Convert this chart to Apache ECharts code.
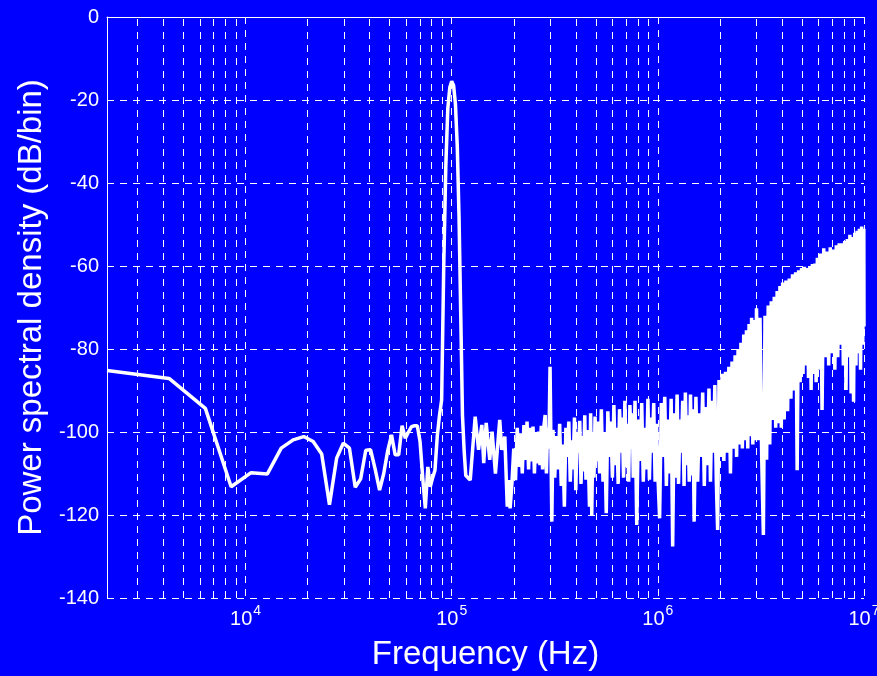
<!DOCTYPE html>
<html>
<head>
<meta charset="utf-8">
<script src="https://cdn.jsdelivr.net/npm/echarts@6/dist/echarts.min.js"></script>
<style>
html, body { margin: 0; padding: 0; background: #0000ff; }
#cn { width: 877px; height: 676px; }
</style>
</head>
<body>
<div id="cn"></div>
<script>
'use strict';

// FFT bins below the carrier (Hz / dB per bin)
const lowHz = [2128, 4256, 6384, 8512, 10640, 12768, 14896, 17024, 19152, 21280,
    23408, 25536, 27664, 29792, 31920, 34048, 36176, 38304, 40432, 42560,
    44688, 46816, 48944, 51072, 53200, 55328, 57456, 59584, 61712, 63840,
    65968, 68096, 70224, 72352, 74480, 76608, 78736, 80864, 82992, 85120,
    87248, 89376, 91504, 93632, 95760, 97888, 100016, 102144, 104272, 106400,
    108528, 110656, 112784, 114912, 117040];
const lowDb = [-85.2, -87.1, -94.3, -113.2, -109.8, -110.1, -103.9, -101.9, -101.1, -102.3,
    -105.3, -117.5, -106.3, -102.7, -103.9, -113.3, -111.3, -104.4, -104.3, -109,
    -114, -110, -104.5, -100.7, -105.5, -105.5, -98.5, -101.5, -100, -98.7,
    -98.5, -98.5, -102.3, -111, -118.4, -108.4, -113.2, -111, -109.2, -101,
    -96, -92.3, -60, -36, -22, -17, -15.5, -16.5, -21, -31,
    -48, -72, -96, -104.5, -110.5];

// 120 kHz .. 306 kHz
const midHz = [123e3, 130e3, 135e3, 140e3, 143e3, 147e3, 153e3, 157e3, 163e3, 171e3,
    175e3, 181e3, 186e3, 189e3, 192e3, 196e3,
    200e3, 204e3, 208e3, 212e3, 216e3, 220e3, 224e3, 228e3, 232e3, 236e3,
    240e3, 244e3, 248e3, 252e3, 256e3, 260e3, 264e3, 268e3, 272e3, 276e3,
    280e3, 284e3, 288e3, 292e3, 296e3, 300e3, 306e3];
const midDb = [-111.6, -96.3, -104.3, -98.3, -107.5, -97.8, -106.7, -99.9, -110, -97.1,
    -104.3, -101.1, -118, -111.6, -118.4, -112.3,
    -104, -111.6, -99, -108.4, -100.3, -110, -98.3, -106.7, -97.5, -109,
    -99, -107.1, -98.7, -110, -100, -107.6, -99.9, -108, -98.5, -109,
    -98.7, -95.9, -110, -99, -104, -84.3, -121.6];

// dense noise band, 310 kHz .. 10 MHz
const hfHz = [
    310e3, 316e3, 322e3, 328e3, 334e3, 340e3, 346e3, 352e3, 358e3, 364e3,
    370e3, 376e3, 382e3, 388e3, 394e3, 400e3, 406e3, 412e3, 418e3, 424e3,
    430e3, 436e3, 442e3, 448e3, 454e3, 460e3, 466e3, 472e3, 478e3, 484e3,
    490e3, 496e3, 502e3,
    512e3, 522e3, 532e3, 542e3, 552e3, 562e3, 572e3, 582e3, 592e3, 602e3,
    612e3, 622e3, 632e3, 642e3, 652e3, 662e3, 672e3, 682e3, 692e3, 702e3,
    712e3, 722e3, 732e3, 742e3, 752e3,
    760e3, 775e3, 790e3, 805e3, 820e3, 835e3, 850e3, 865e3, 880e3, 895e3,
    910e3, 925e3, 940e3, 955e3, 970e3, 985e3, 1000e3,
    1020e3, 1040e3, 1060e3, 1080e3, 1100e3, 1120e3, 1140e3, 1160e3, 1180e3, 1200e3,
    1220e3, 1240e3, 1260e3, 1280e3, 1300e3, 1320e3, 1340e3, 1360e3, 1380e3, 1400e3,
    1420e3, 1440e3, 1460e3, 1480e3, 1500e3,
    1530e3, 1560e3, 1590e3, 1620e3, 1650e3, 1680e3, 1710e3, 1740e3, 1770e3, 1800e3,
    1830e3, 1860e3, 1890e3, 1920e3, 1950e3, 1980e3, 2010e3,
    2050e3, 2090e3, 2130e3, 2170e3, 2210e3, 2250e3, 2290e3, 2330e3, 2370e3, 2410e3,
    2450e3, 2490e3, 2530e3, 2570e3, 2610e3, 2650e3, 2690e3, 2730e3, 2770e3, 2810e3,
    2850e3, 2890e3, 2930e3, 2970e3, 3010e3,
    3070e3, 3130e3, 3190e3, 3250e3, 3310e3, 3370e3, 3430e3, 3490e3, 3550e3, 3610e3,
    3670e3, 3730e3, 3790e3, 3850e3, 3910e3, 3970e3, 4030e3,
    4100e3, 4180e3, 4260e3, 4340e3, 4420e3, 4500e3, 4580e3, 4660e3, 4740e3, 4820e3,
    4900e3, 4980e3, 5060e3, 5140e3, 5220e3, 5300e3, 5380e3, 5460e3, 5540e3, 5620e3,
    5700e3, 5780e3, 5860e3, 5940e3, 6020e3,
    6140e3, 6260e3, 6380e3, 6500e3, 6620e3, 6740e3, 6860e3, 6980e3, 7100e3, 7220e3,
    7340e3, 7460e3, 7580e3, 7700e3, 7820e3, 7940e3, 8060e3, 8180e3, 8300e3, 8420e3,
    8540e3, 8660e3, 8780e3, 8900e3, 9020e3, 9140e3, 9260e3, 9380e3, 9500e3, 9620e3,
    9740e3, 9860e3, 9980e3, 10000e3];
const hfDb = [
    -99.5, -111, -101, -109, -98, -113, -103, -118, -99, -106,
    -97.5, -112, -102, -109, -96.5, -114, -100, -105, -97.3, -112.5,
    -101, -109.5, -96, -111.5, -99.5, -106, -118, -95.5, -120, -100,
    -111, -96.3, -107,
    -97.5, -110, -94.5, -112, -100, -119.6, -95, -106, -97.5, -111,
    -93.5, -108, -99, -112.5, -94.5, -105, -96.5, -111, -92.5, -108.5,
    -98, -112, -93.5, -104, -95.5,
    -111, -92.5, -122.4, -97, -107, -93, -112, -99, -109, -92,
    -111.5, -96.5, -105, -93, -112, -98, -110,
    -120.8, -93, -106, -91.5, -113, -97, -110, -92, -127.6, -95.5,
    -111, -91, -112.5, -97, -105, -92.5, -113, -90.5, -108, -96,
    -112, -91, -110.5, -94.5, -121.6,
    -91.5, -112, -95.5, -106, -90.5, -113, -94, -108, -89.5, -112,
    -92.5, -105, -88.7, -111, -123.6, -87.5, -106,
    -86, -107, -85.5, -105, -84.3, -110, -83, -104, -81.5, -106,
    -80, -103, -78.5, -104, -76.5, -102, -75.5, -104, -74, -101,
    -72.5, -103, -73, -102, -70.2,
    -102, -72.5, -106, -124.8, -72, -106.7, -69.5, -103, -68.5, -97.1,
    -67.4, -99, -66, -97.9, -64.8, -99, -64,
    -97, -63.5, -95, -63, -92, -62, -90, -61.5, -109.2, -61,
    -88, -60.5, -86, -60.2, -84, -60.5, -87, -60, -89.9, -59.5,
    -86, -59.4, -88, -58, -85,
    -57, -94.7, -55.7, -82, -56.5, -84, -55.5, -81, -56, -85,
    -55, -82, -54.5, -79, -54.5, -84, -54, -89.9, -53.5, -82,
    -52.5, -90.7, -53, -92.7, -52, -84, -51.5, -81, -51, -85,
    -50.5, -79, -51, -74.6];

// minor log grid (2..9 x decade)
const minorGridHz = [3e3, 4e3, 5e3, 6e3, 7e3, 8e3, 9e3,
    2e4, 3e4, 4e4, 5e4, 6e4, 7e4, 8e4, 9e4,
    2e5, 3e5, 4e5, 5e5, 6e5, 7e5, 8e5, 9e5,
    2e6, 3e6, 4e6, 5e6, 6e6, 7e6, 8e6, 9e6];

const fMin = 2128;
const fMax = 1e7;
const strFont = '"Liberation Sans", Arial, sans-serif';
const gridDash = [7, 6];

const zipPairs = (a, b) => a.map((v, i) => [v, b[i]]);

const psd = zipPairs(lowHz.concat(midHz, hfHz), lowDb.concat(midDb, hfDb));

const optionChart = {
    backgroundColor: '#0000ff',
    animation: false,
    textStyle: { fontFamily: strFont },
    grid: {
        left: 107,
        right: 13,
        top: 17,
        bottom: 78,
        outerBoundsMode: 'none' // v6: keep the plot box where it is
    },
    xAxis: {
        type: 'log',
        logBase: 10,
        min: fMin,
        max: fMax,
        name: 'Frequency (Hz)',
        nameLocation: 'middle',
        nameGap: 40,
        nameTextStyle: { color: '#fff', fontSize: 33, fontFamily: strFont },
        axisLine: { show: true, lineStyle: { color: '#fff', width: 1 } },
        axisTick: { show: false },
        splitLine: { show: true, lineStyle: { color: '#fff', type: gridDash, width: 1 } },
        axisLabel: {
            color: '#fff',
            margin: 6,
            showMinLabel: false,
            hideOverlap: false,
            formatter: (v) => {
                const p = Math.log10(v);
                if (Math.abs(p - Math.round(p)) > 1e-6) return '';
                return `{b|10}{s|${Math.round(p)}}`;
            },
            rich: {
                b: { fontSize: 20, color: '#fff', fontFamily: strFont, verticalAlign: 'bottom' },
                s: { fontSize: 14, color: '#fff', fontFamily: strFont, verticalAlign: 'bottom', padding: [0, 0, 11, 1] }
            }
        }
    },
    yAxis: {
        type: 'value',
        min: -140,
        max: 0,
        interval: 20,
        name: 'Power spectral density (dB/bin)',
        nameLocation: 'middle',
        nameGap: 58,
        nameRotate: 90,
        nameTextStyle: { color: '#fff', fontSize: 33, fontFamily: strFont },
        axisLine: { show: true, lineStyle: { color: '#fff', width: 1 } },
        axisTick: { show: false },
        splitLine: { show: true, lineStyle: { color: '#fff', type: gridDash, width: 1 } },
        axisLabel: { color: '#fff', fontSize: 20, margin: 8, fontFamily: strFont }
    },
    series: [{
        type: 'line',
        data: psd,
        z: 3,
        symbol: 'none',
        showSymbol: false,
        lineStyle: { color: '#fff', width: 3.5 },
        markLine: {
            silent: true,
            z: 1,
            symbol: 'none',
            animation: false,
            label: { show: false },
            lineStyle: { color: '#fff', type: gridDash, width: 1 },
            emphasis: { disabled: true },
            data: minorGridHz.map(f => ({ xAxis: f }))
        }
    }]
};

const echartsPsd = echarts.init(document.getElementById('cn'));
echartsPsd.setOption(optionChart);
</script>
</body>
</html>
